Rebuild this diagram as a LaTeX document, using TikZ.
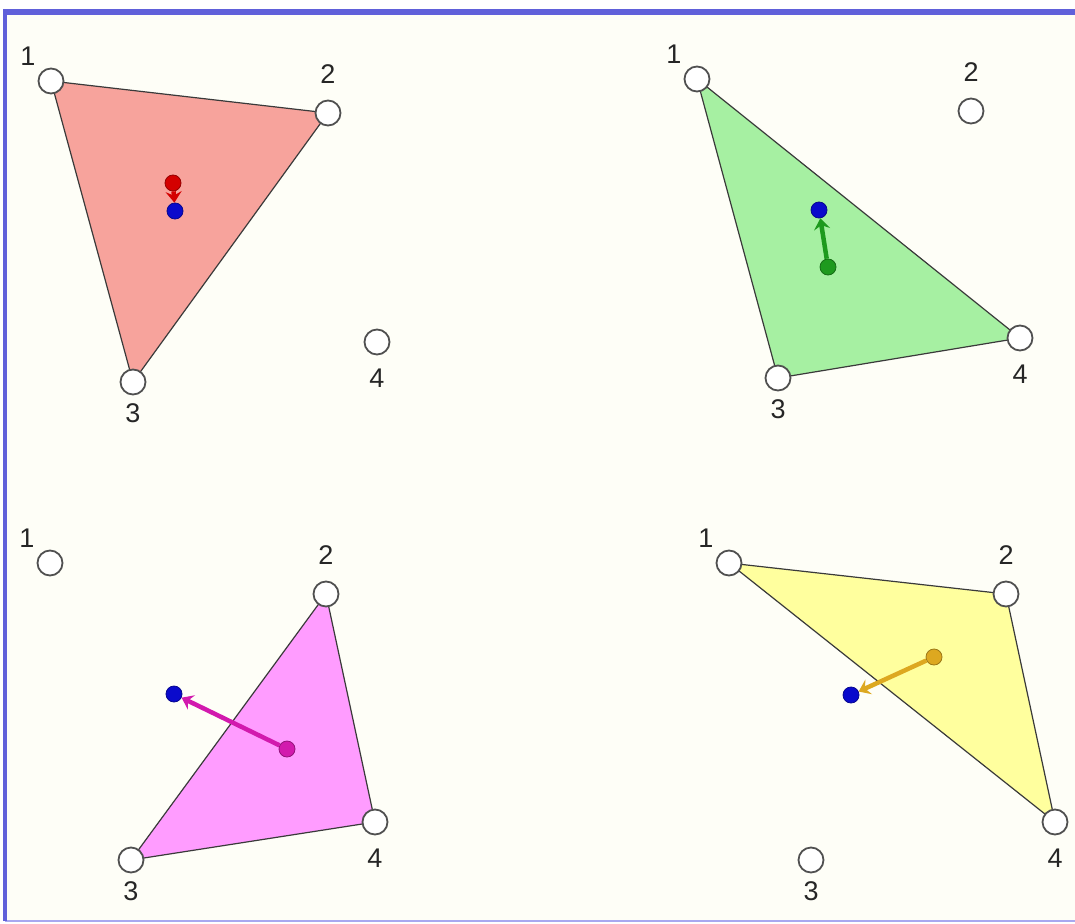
\documentclass[tikz,border=0pt]{standalone}
\usepackage{fontspec}
\setmainfont{Liberation Sans}
\usetikzlibrary{positioning,arrows.meta}

\definecolor{frameblue}{HTML}{6060DA}
\definecolor{framelight}{HTML}{A8A8F0}
\definecolor{paper}{HTML}{FEFEF7}
\definecolor{vtxgray}{HTML}{505050}
\definecolor{numgray}{HTML}{262626}
\definecolor{edgegray}{HTML}{3A3A3A}
\definecolor{redfill}{HTML}{F7A39C}
\definecolor{greenfill}{HTML}{A6F0A2}
\definecolor{pinkfill}{HTML}{FF9CFF}
\definecolor{yellowfill}{HTML}{FFFF9E}
\definecolor{redmark}{HTML}{D40000}
\definecolor{greenmark}{HTML}{1E9A1E}
\definecolor{pinkmark}{HTML}{D21AAE}
\definecolor{goldmark}{HTML}{DDA820}
\definecolor{bluemark}{HTML}{0A0ACC}

\begin{document}
\begin{tikzpicture}[
  x=1pt, y=-1pt,
  node distance=8pt,
  vtx/.style={circle, draw=vtxgray, line width=1.8pt, fill=white, minimum size=25pt, inner sep=0pt},
  num/.style={inner sep=0pt, text=numgray, font=\fontsize{27}{29}\selectfont},
  tri/.style={draw=edgegray, line width=1.2pt, line join=round},
  dot/.style={circle, draw=#1!70!black, fill=#1, line width=0.8pt, minimum size=16pt, inner sep=0pt},
  mvarrow/.style={draw=#1, line width=4.5pt, -{Stealth[inset=4pt, length=11pt, width=16pt]}}
]
\useasboundingbox (0,0) rectangle (1075,923);
\fill[paper] (5,12) rectangle (1075,921);
\draw[framelight, line width=2pt] (5,921) -- (1075,921);
\draw[frameblue, line width=4pt] (5,921) -- (5,12);
\draw[frameblue, line width=6pt] (3,12) -- (1075,12);

% top left: red triangle 1-2-3
\coordinate (a1) at (51,81);
\coordinate (a2) at (328,113);
\coordinate (a3) at (133,382);
\coordinate (a4) at (377,342);
\filldraw[tri, fill=redfill] (a1) -- (a2) -- (a3) -- cycle;
\node[vtx] (r1) at (a1) {};
\node[vtx] (r2) at (a2) {};
\node[vtx] (r3) at (a3) {};
\node[vtx] (r4) at (a4) {};
\node[num, above left=6pt and 6pt of r1] (r1n) {1};
\node[num, above=16pt of r2] (r2n) {2};
\node[num, below=8pt of r3] (r3n) {3};
\node[num, below=13pt of r4] (r4n) {4};
\node[dot=bluemark] (rb) at (175,211) {};
\node[dot=redmark] (rm) at (173,183) {};
\draw[mvarrow=redmark] (rm) -- (rb);

% top right: green triangle 1-3-4
\coordinate (b1) at (697,79);
\coordinate (b2) at (971,111);
\coordinate (b3) at (778,378);
\coordinate (b4) at (1020,338);
\filldraw[tri, fill=greenfill] (b1) -- (b4) -- (b3) -- cycle;
\node[vtx] (g1) at (b1) {};
\node[vtx] (g2) at (b2) {};
\node[vtx] (g3) at (b3) {};
\node[vtx] (g4) at (b4) {};
\node[num, above left=6pt and 6pt of g1] (g1n) {1};
\node[num, above=16pt of g2] (g2n) {2};
\node[num, below=8pt of g3] (g3n) {3};
\node[num, below=13pt of g4] (g4n) {4};
\node[dot=bluemark] (gb) at (819,210) {};
\node[dot=greenmark] (gm) at (828,267) {};
\draw[mvarrow=greenmark] (gm) -- (gb);

% bottom left: pink triangle 2-3-4
\coordinate (c1) at (50,563);
\coordinate (c2) at (326,594);
\coordinate (c3) at (131,860);
\coordinate (c4) at (375,822);
\filldraw[tri, fill=pinkfill] (c2) -- (c4) -- (c3) -- cycle;
\node[vtx] (p1) at (c1) {};
\node[vtx] (p2) at (c2) {};
\node[vtx] (p3) at (c3) {};
\node[vtx] (p4) at (c4) {};
\node[num, above left=6pt and 6pt of p1] (p1n) {1};
\node[num, above=16pt of p2] (p2n) {2};
\node[num, below=8pt of p3] (p3n) {3};
\node[num, below=13pt of p4] (p4n) {4};
\node[dot=bluemark] (pb) at (174,694) {};
\node[dot=pinkmark] (pm) at (287,749) {};
\draw[mvarrow=pinkmark] (pm) -- (pb);

% bottom right: yellow triangle 1-2-4
\coordinate (d1) at (729,563);
\coordinate (d2) at (1006,594);
\coordinate (d3) at (811,860);
\coordinate (d4) at (1055,822);
\filldraw[tri, fill=yellowfill] (d1) -- (d2) -- (d4) -- cycle;
\node[vtx] (y1) at (d1) {};
\node[vtx] (y2) at (d2) {};
\node[vtx] (y3) at (d3) {};
\node[vtx] (y4) at (d4) {};
\node[num, above left=6pt and 6pt of y1] (y1n) {1};
\node[num, above=16pt of y2] (y2n) {2};
\node[num, below=8pt of y3] (y3n) {3};
\node[num, below=13pt of y4] (y4n) {4};
\node[dot=bluemark] (yb) at (851,695) {};
\node[dot=goldmark] (ym) at (934,657) {};
\draw[mvarrow=goldmark] (ym) -- (yb);
\end{tikzpicture}
\end{document}
